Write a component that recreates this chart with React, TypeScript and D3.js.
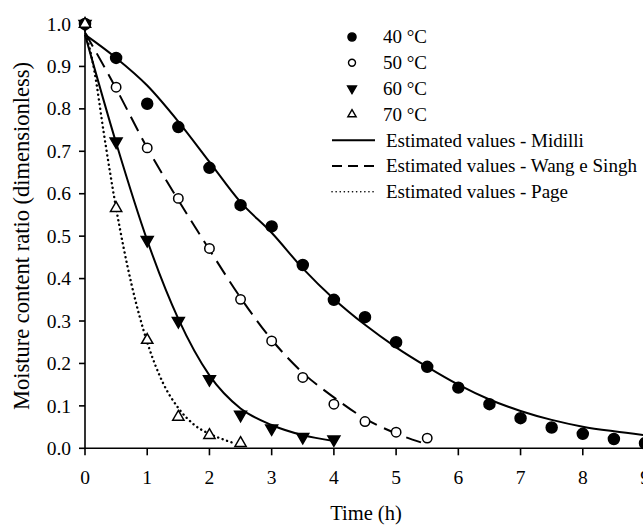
import React, { useRef, useEffect } from 'react';
import * as d3 from 'd3';

// observed points, every 0.5 h
const times = [0, 0.5, 1, 1.5, 2, 2.5, 3, 3.5, 4, 4.5, 5, 5.5, 6, 6.5, 7, 7.5, 8, 8.5, 9];
const mr40 = [1.0, 0.92, 0.812, 0.757, 0.661, 0.573, 0.523, 0.432, 0.35, 0.309, 0.25, 0.192, 0.143, 0.104, 0.071, 0.049, 0.034, 0.022, 0.012];
const mr50 = [1.0, 0.851, 0.708, 0.589, 0.471, 0.351, 0.253, 0.167, 0.104, 0.063, 0.038, 0.024];
const mr60 = [1.0, 0.723, 0.491, 0.3, 0.163, 0.079, 0.047, 0.027, 0.021];
const mr70 = [1.0, 0.566, 0.255, 0.074, 0.031, 0.012];

// fitted curves
const midilli40T = [0, 0.5, 1, 1.5, 2, 2.5, 3, 3.5, 4, 4.5, 5, 5.5, 6, 6.5, 7, 7.5, 8, 8.5, 9];
const midilli40V = [0.975, 0.92, 0.855, 0.77, 0.675, 0.58, 0.508, 0.424, 0.352, 0.291, 0.238, 0.192, 0.15, 0.115, 0.088, 0.067, 0.051, 0.04, 0.031];
const wang50T = [0, 0.5, 1, 1.5, 2, 2.5, 3, 3.5, 4, 4.5, 5, 5.4];
const wang50V = [0.98, 0.848, 0.708, 0.585, 0.468, 0.355, 0.256, 0.178, 0.12, 0.07, 0.035, 0.014];
const midilli60T = [0, 0.5, 1, 1.5, 2, 2.5, 3, 3.5, 4];
const midilli60V = [0.975, 0.72, 0.49, 0.305, 0.172, 0.094, 0.055, 0.031, 0.017];
const page70T = [0, 0.15, 0.3, 0.5, 0.75, 1, 1.25, 1.5, 1.75, 2, 2.2, 2.4];
const page70V = [0.985, 0.89, 0.745, 0.566, 0.385, 0.25, 0.155, 0.095, 0.056, 0.034, 0.022, 0.012];

const xTicks = [0, 1, 2, 3, 4, 5, 6, 7, 8, 9];
const yTicks = [0, 0.1, 0.2, 0.3, 0.4, 0.5, 0.6, 0.7, 0.8, 0.9, 1.0];

const markerLabels = ['40 °C', '50 °C', '60 °C', '70 °C'];
const lineLabels = ['Estimated values - Midilli', 'Estimated values - Wang e Singh', 'Estimated values - Page'];

export default function App() {
  const svgRef = useRef<SVGSVGElement | null>(null);

  useEffect(() => {
    if (!svgRef.current) return;
    const width = 643, height = 525;
    const font = '"Liberation Serif", "Times New Roman", serif';
    const svg = d3.select(svgRef.current);
    svg.selectAll('*').remove();

    const x = d3.scaleLinear().domain([0, 9]).range([85, 645]);
    const y = d3.scaleLinear().domain([0, 1]).range([448.3, 24]);

    // axes
    const axisG = svg.append('g').attr('stroke', '#000').attr('stroke-width', 1.6);
    axisG.append('line').attr('x1', x(0)).attr('x2', width).attr('y1', y(0)).attr('y2', y(0));
    axisG.append('line').attr('x1', x(0)).attr('x2', x(0)).attr('y1', y(0)).attr('y2', y(1));
    xTicks.forEach((t) => {
      axisG.append('line').attr('x1', x(t)).attr('x2', x(t)).attr('y1', y(0)).attr('y2', y(0) + 7);
      svg.append('text').attr('x', x(t)).attr('y', 483.5).attr('text-anchor', 'middle')
        .attr('font-family', font).attr('font-size', 19.5).text(String(t));
    });
    yTicks.forEach((t) => {
      axisG.append('line').attr('x1', x(0) - 6).attr('x2', x(0)).attr('y1', y(t)).attr('y2', y(t));
      svg.append('text').attr('x', 71).attr('y', y(t)).attr('dy', '0.34em').attr('text-anchor', 'end')
        .attr('font-family', font).attr('font-size', 19.5).text(t.toFixed(1));
    });
    svg.append('text').attr('x', 366).attr('y', 520).attr('text-anchor', 'middle')
      .attr('font-family', font).attr('font-size', 20.5).text('Time (h)');
    svg.append('text').attr('transform', 'translate(29,236) rotate(-90)').attr('text-anchor', 'middle')
      .attr('font-family', font).attr('font-size', 22.5).text('Moisture content ratio (dimensionless)');

    // curves
    const line = d3.line<[number, number]>().x((d) => x(d[0])).y((d) => y(d[1])).curve(d3.curveMonotoneX);
    const zip = (ts: number[], vs: number[]) => ts.map((t, i) => [t, vs[i]] as [number, number]);
    const curves = [
      { pts: zip(midilli40T, midilli40V), dash: null },
      { pts: zip(wang50T, wang50V), dash: '16,8' },
      { pts: zip(midilli60T, midilli60V), dash: null },
      { pts: zip(page70T, page70V), dash: '0.1,4.6' },
    ];
    curves.forEach((c) => {
      svg.append('path').attr('d', line(c.pts)).attr('fill', 'none').attr('stroke', '#000')
        .attr('stroke-width', c.dash === '0.1,4.6' ? 2.4 : 2).attr('stroke-linecap', c.dash === '0.1,4.6' ? 'round' : 'butt')
        .attr('stroke-dasharray', c.dash);
    });

    // markers
    const styles = [
      { type: d3.symbolCircle, size: 95, fill: '#000', rot: 0 },
      { type: d3.symbolCircle, size: 70, fill: '#fff', rot: 0 },
      { type: d3.symbolTriangle, size: 62, fill: '#000', rot: 180 },
      { type: d3.symbolTriangle, size: 55, fill: '#fff', rot: 0 },
    ];
    const series = [mr40, mr50, mr60, mr70];
    series.forEach((vals, si) => {
      const st = styles[si];
      const path = d3.symbol().type(st.type).size(st.size)();
      vals.forEach((v, i) => {
        svg.append('path').attr('d', path)
          .attr('transform', `translate(${x(times[i])},${y(v)}) rotate(${st.rot})`)
          .attr('fill', st.fill).attr('stroke', '#000').attr('stroke-width', 1.5);
      });
    });

    // legend
    const rowY = (i: number) => 37 + i * 25.8;
    markerLabels.forEach((lab, i) => {
      const st = styles[i];
      const path = d3.symbol().type(st.type).size(st.size * 0.55)();
      svg.append('path').attr('d', path).attr('transform', `translate(352,${rowY(i)}) rotate(${st.rot})`)
        .attr('fill', st.fill).attr('stroke', '#000').attr('stroke-width', 1.4);
      svg.append('text').attr('x', 383).attr('y', rowY(i)).attr('dy', '0.34em')
        .attr('font-family', font).attr('font-size', 19).text(lab);
    });
    const legDash = [null, '10,6', '0.1,4'];
    lineLabels.forEach((lab, j) => {
      const yy = rowY(4 + j);
      svg.append('line').attr('x1', 332).attr('x2', 375).attr('y1', yy).attr('y2', yy)
        .attr('stroke', '#000').attr('stroke-width', j === 2 ? 1.6 : 2).attr('stroke-linecap', j === 2 ? 'round' : 'butt')
        .attr('stroke-dasharray', legDash[j]);
      svg.append('text').attr('x', 386).attr('y', yy).attr('dy', '0.34em')
        .attr('font-family', font).attr('font-size', 19).text(lab);
    });
  }, []);

  return (
    <svg ref={svgRef} width={643} height={525}
      style={{ position: 'absolute', left: 0, top: 0, background: '#fff' }} />
  );
}
